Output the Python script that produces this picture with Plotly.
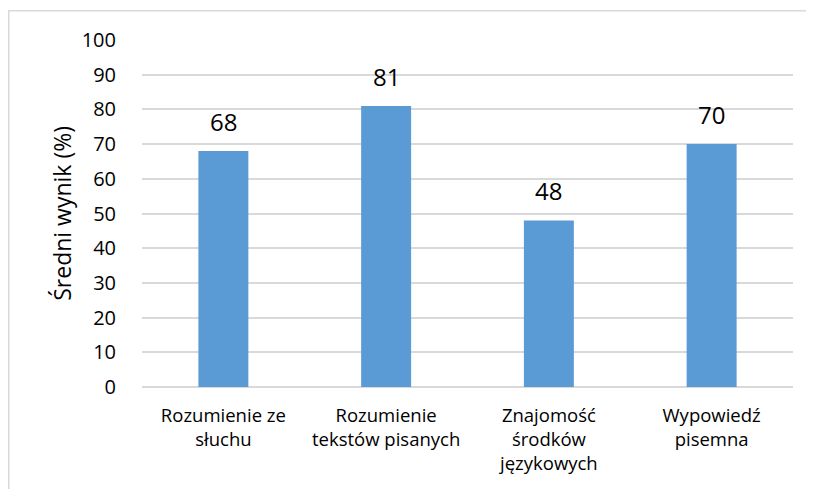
import plotly.graph_objects as go

categories = ["Rozumienie ze<br>słuchu", "Rozumienie<br>tekstów pisanych",
              "Znajomość<br>środków<br>językowych", "Wypowiedź<br>pisemna"]
values = [68, 81, 48, 70]
y_ticks = list(range(0, 101, 10))

FONT = "Open Sans"

fig = go.Figure()
fig.add_trace(go.Bar(
    x=categories, y=values, width=0.307,
    marker=dict(color="#5b9bd5", line=dict(width=0)),
    hoverinfo="skip",
))

for c, v in zip(categories, values):
    fig.add_annotation(x=c, y=v, text=str(v), showarrow=False,
                       xref="x", yref="y", yanchor="bottom", yshift=11,
                       font=dict(family=FONT, size=24, color="#000000"))

fig.add_annotation(x=-0.124, y=0.5, xref="paper", yref="paper",
                   text="Średni wynik (%)", textangle=-90, showarrow=False,
                   xanchor="center", yanchor="middle",
                   font=dict(family=FONT, size=23, color="#000000"))

# chart frame (light gray border, only top and left visible)
fig.add_shape(type="rect", xref="paper", yref="paper",
              x0=-0.2047, x1=1.3, y0=-0.7, y1=1.0845,
              line=dict(color="#d9d9d9", width=1.5), fillcolor="rgba(0,0,0,0)",
              layer="below")

fig.update_layout(
    width=806, height=481,
    margin=dict(l=134, r=21, t=32, b=102),
    paper_bgcolor="white", plot_bgcolor="white",
    showlegend=False,
    font=dict(family=FONT, color="#000000"),
    xaxis=dict(showgrid=False, showline=False, ticks="", zeroline=False,
               tickfont=dict(family=FONT, size=18.5, color="#000000"),
               ticklabelstandoff=15, fixedrange=True),
    yaxis=dict(range=[0, 100], tickvals=y_ticks, showgrid=True,
               gridcolor="#d9d9d9", gridwidth=1.5, zeroline=True,
               zerolinecolor="#d9d9d9", zerolinewidth=1.5,
               showline=False, ticks="",
               tickfont=dict(family=FONT, size=20, color="#000000"),
               ticklabelstandoff=25, fixedrange=True),
)

fig.write_html("out.html")
